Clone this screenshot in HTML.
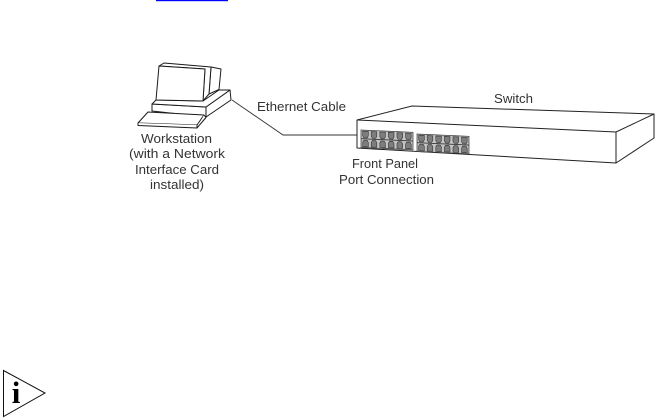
<!DOCTYPE html>
<html>
<head>
<meta charset="utf-8">
<style>
html,body{margin:0;padding:0;background:#fff;}
svg{display:block;}
text{font-family:"Liberation Sans",sans-serif;font-size:12.5px;fill:#333;}
</style>
</head>
<body>
<svg width="655" height="418" viewBox="0 0 655 418" xmlns="http://www.w3.org/2000/svg">
<defs>
<g id="p"><path d="M1.2 0.6H6.8V5.2L5.6 7.2H2.4L1.2 5.2Z" fill="#7d7d7d" stroke="#333" stroke-width="0.6"/></g>
<g id="q"><path d="M1.2 7.6H6.8V3L5.6 1H2.4L1.2 3Z" fill="#7d7d7d" stroke="#333" stroke-width="0.6"/></g>
<g id="ports">
<rect x="0" y="0" width="52" height="17.5" fill="#c4c4c4" stroke="#333" stroke-width="0.7"/>
<path d="M0 8.7H52" stroke="#333" stroke-width="0.9"/>
<use href="#p" x="0.5" y="0.5"/><use href="#p" x="9" y="0.5"/><use href="#p" x="17.6" y="0.5"/><use href="#p" x="26.2" y="0.5"/><use href="#p" x="34.8" y="0.5"/><use href="#p" x="43.4" y="0.5"/>
<use href="#q" x="0.5" y="9"/><use href="#q" x="9" y="9"/><use href="#q" x="17.6" y="9"/><use href="#q" x="26.2" y="9"/><use href="#q" x="34.8" y="9"/><use href="#q" x="43.4" y="9"/>
</g>
</defs>

<rect x="156" y="0" width="72" height="1.2" fill="#0000ff"/>

<!-- workstation -->
<g fill="#fff" stroke="#1a1a1a" stroke-width="1" stroke-linejoin="round">
<path d="M211 67L221 69L219 89.5L209 94Z"/>
<path d="M152 104V111L206 117V107Z"/>
<path d="M206 107L230 90L231 100L206 117Z"/>
<path d="M156 100L203 101L219 90L230 90L206 107L152 104Z"/>
<path d="M164 63L211 67L209 94L203 101L205 69L159 66Z"/>
<path d="M159 66L205 69L203 101L156 100Z"/>
<path d="M148 112L204 115L197 125L138 123Z"/>
<path d="M138 123V125.5L197 128L197 125M197 128L206 117.5L204 115"/>
</g>

<!-- cable -->
<path d="M232 100L283 135H361" fill="none" stroke="#333" stroke-width="0.9"/>

<!-- switch -->
<g fill="none" stroke="#222" stroke-width="1" stroke-linejoin="round">
<path d="M357 120L412 106L654 114V138L616 163L357 148Z" fill="#fff"/>
<path d="M357 120L616 132L654 114M616 132V163"/>
</g>
<g transform="matrix(1,0.045,0,1,361,130)"><use href="#ports"/></g>
<g transform="matrix(1,0.045,0,1,417,134)"><use href="#ports"/></g>

<!-- labels -->
<text x="257" y="111" textLength="89" lengthAdjust="spacingAndGlyphs">Ethernet Cable</text>
<text x="494" y="103" textLength="39" lengthAdjust="spacingAndGlyphs">Switch</text>
<text x="352" y="168" textLength="66" lengthAdjust="spacingAndGlyphs">Front Panel</text>
<text x="339" y="184" textLength="95" lengthAdjust="spacingAndGlyphs">Port Connection</text>
<text x="141" y="143" textLength="71" lengthAdjust="spacingAndGlyphs">Workstation</text>
<text x="129" y="158" textLength="96" lengthAdjust="spacingAndGlyphs">(with a Network</text>
<text x="135" y="174" textLength="84" lengthAdjust="spacingAndGlyphs">Interface Card</text>
<text x="150" y="189" textLength="54" lengthAdjust="spacingAndGlyphs">installed)</text>

<!-- info icon -->
<path d="M3.5 370.5L45 393L3.5 416.5Z" fill="#fff" stroke="#111" stroke-width="1"/>
<text x="16" y="403" text-anchor="middle" style="font-family:'Liberation Serif',serif;font-weight:bold;font-size:31px;fill:#000">i</text>
</svg>
</body>
</html>
